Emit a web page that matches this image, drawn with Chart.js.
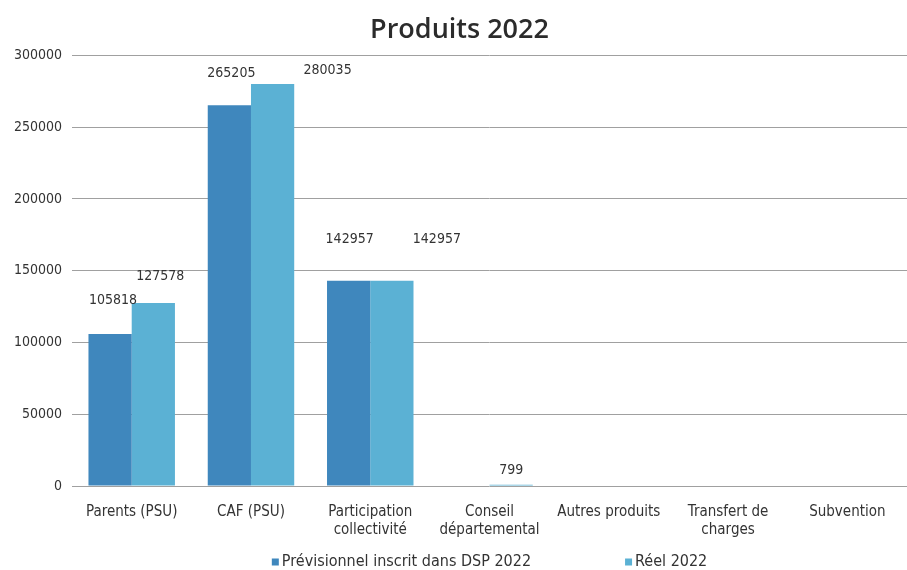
<!DOCTYPE html>
<html>
<head>
<meta charset="utf-8">
<title>Produits 2022</title>
<script src="https://cdn.jsdelivr.net/npm/chart.js@4/dist/chart.umd.min.js"></script>
<style>
  html, body { margin: 0; padding: 0; background: #fff; }
  #wrap { width: 907px; height: 570px; }
</style>
</head>
<body>
<div id="wrap"><canvas id="produitsChart"></canvas></div>
<script>
// postes de produits
const categories = [
    'Parents (PSU)', 'CAF (PSU)', ['Participation', 'collectivité'],
    ['Conseil', 'départemental'], 'Autres produits', ['Transfert de', 'charges'], 'Subvention'
];
const previsionnel = [105818, 265205, 142957, null, null, null, null];
const reel = [127578, 280035, 142957, 799, null, null, null];
const yTicks = [0, 50000, 100000, 150000, 200000, 250000, 300000];

const police = '"DejaVu Sans Condensed", "DejaVu Sans", sans-serif';

// étiquettes de valeur au-dessus des barres (décalages façon Excel)
const valeurs = {
    id: 'valeurs',
    afterDatasetsDraw(chart, args, opts) {
        const ctx = chart.ctx;
        ctx.save();
        ctx.font = '14px ' + police;
        ctx.fillStyle = '#333';
        ctx.textAlign = 'center';
        ctx.textBaseline = 'middle';
        chart.data.datasets.forEach(function (ds, i) {
            const meta = chart.getDatasetMeta(i);
            const dec = opts.decalages[i];
            meta.data.forEach(function (bar, j) {
                const v = ds.data[j];
                if (v === null || v === undefined) return;
                const d = dec[j] || [0, -30];
                ctx.fillText(String(v), bar.x + d[0], bar.y + d[1]);
            });
        });
        ctx.restore();
    }
};

// légende en bas, petits carrés, éléments très espacés
const legende = {
    id: 'legende',
    afterDraw(chart, args, opts) {
        const ctx = chart.ctx;
        const area = chart.chartArea;
        ctx.save();
        ctx.font = opts.taille + 'px ' + police;
        ctx.textBaseline = 'middle';
        const items = chart.data.datasets.map(function (ds) {
            return { texte: ds.label, couleur: ds.backgroundColor, w: opts.carre + 3 + ctx.measureText(ds.label).width };
        });
        let total = items.reduce(function (s, it) { return s + it.w; }, 0) + opts.ecart * (items.length - 1);
        let x = (area.left + area.right) / 2 - total / 2;
        const y = chart.height - opts.bas;
        items.forEach(function (it) {
            ctx.fillStyle = it.couleur;
            ctx.fillRect(x, y - opts.carre / 2, opts.carre, opts.carre);
            ctx.fillStyle = '#333';
            ctx.fillText(it.texte, x + opts.carre + 3, y);
            x += it.w + opts.ecart;
        });
        ctx.restore();
    }
};

const ctx = document.getElementById('produitsChart').getContext('2d');
const chart = new Chart(ctx, {
    type: 'bar',
    data: {
        labels: categories,
        datasets: [{
            label: 'Prévisionnel inscrit dans DSP 2022',
            data: previsionnel,
            backgroundColor: '#3f87bd',
            categoryPercentage: 0.725,
            barPercentage: 1
        }, {
            label: 'Réel 2022',
            data: reel,
            backgroundColor: '#5bb1d4',
            categoryPercentage: 0.725,
            barPercentage: 1
        }]
    },
    plugins: [valeurs, legende],
    options: {
        responsive: true,
        maintainAspectRatio: false,
        animation: false,
        layout: { padding: { left: 4, right: -8, top: 0, bottom: 22 } },
        plugins: {
            title: {
                display: true,
                text: 'Produits 2022',
                color: '#2b2b2b',
                font: { family: '"Open Sans", sans-serif', size: 27, weight: '600' },
                padding: { top: 14, bottom: 9 }
            },
            legend: { display: false },
            tooltip: { enabled: false },
            valeurs: {
                decalages: [
                    [[3, -34], [2, -32], [1, -41]],
                    [[7, -27], [55, -14], [45, -41], [0, -14]]
                ]
            },
            legende: { carre: 7, ecart: 94, bas: 8, taille: 16 }
        },
        scales: {
            x: {
                grid: { display: false },
                border: { display: false },
                ticks: {
                    color: '#333',
                    font: { family: police, size: 15 },
                    maxRotation: 0,
                    autoSkip: false,
                    padding: 9
                }
            },
            y: {
                min: 0,
                max: 300000,
                afterBuildTicks: function (axis) {
                    axis.ticks = yTicks.map(function (v) { return { value: v }; });
                },
                grid: { color: '#a0a0a0', drawTicks: false },
                border: { display: false },
                ticks: {
                    color: '#333',
                    font: { family: police, size: 14 },
                    padding: 10,
                    callback: function (v) { return String(v); }
                }
            }
        }
    }
});
</script>
</body>
</html>
